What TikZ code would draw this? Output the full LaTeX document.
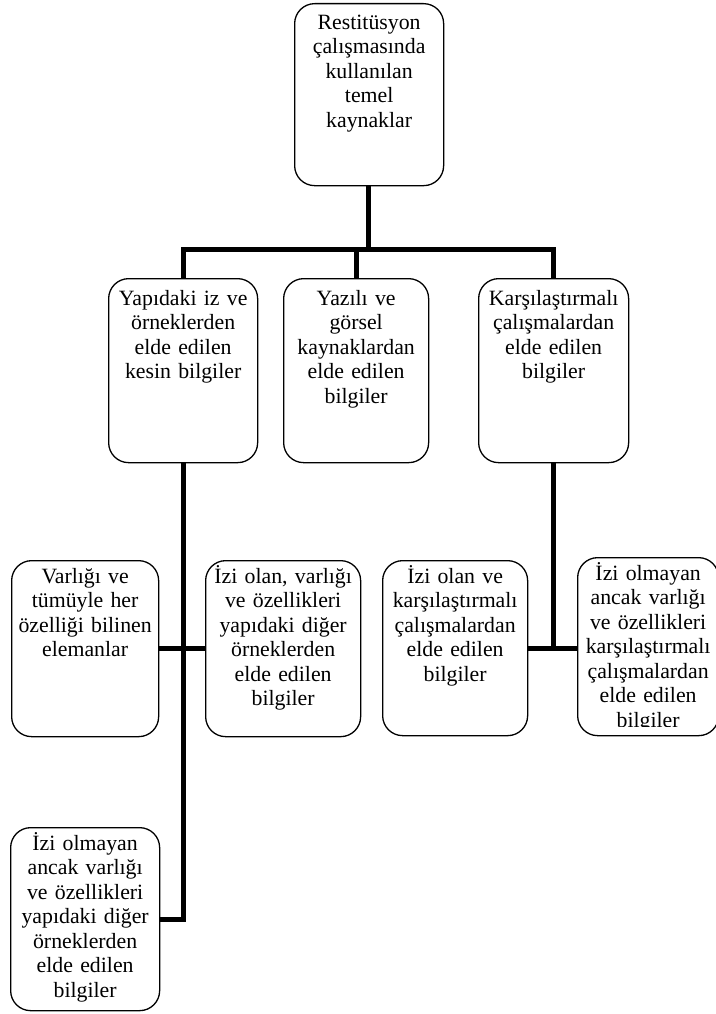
\documentclass[tikz,border=0pt]{standalone}
\usepackage{fontspec}
\setmainfont{Liberation Serif}
\newcommand\tstrut{\rule{0pt}{20pt}}
\begin{document}
\begin{tikzpicture}[x=1pt,y=-1pt,
  box/.style={draw=black, line width=1.3pt, rounded corners=20pt, inner sep=0pt, anchor=north west},
  txt/.style={anchor=north, inner sep=0pt, text width=175pt, align=center, font=\fontsize{21.8}{24.5}\selectfont},
  conn/.style={line width=5pt, line join=miter, line cap=butt}]
\useasboundingbox (0,0) rectangle (715,1014);

% boxes
\node[box, minimum width=149pt, minimum height=182pt] (top) at (294,3) {};
\node[box, minimum width=149pt, minimum height=184pt] (b2) at (108,278) {};
\node[box, minimum width=145pt, minimum height=184pt] (b3) at (283,278) {};
\node[box, minimum width=150pt, minimum height=184pt] (b4) at (478,278) {};
\node[box, minimum width=147pt, minimum height=176pt] (b5) at (11,560) {};
\node[box, minimum width=155pt, minimum height=176pt] (b6) at (205,560) {};
\node[box, minimum width=145pt, minimum height=175pt] (b7) at (382,560) {};
\node[box, minimum width=141pt, minimum height=178pt] (b8) at (577,557) {};
\node[box, minimum width=149pt, minimum height=183pt] (b9) at (10,827) {};

% texts
\node[txt] (top-t) at ([yshift=-6pt]top.north) {\tstrut Restitüsyon\\ çalışmasında\\ kullanılan\\ temel\\ kaynaklar};
\node[txt] (b2-t) at ([yshift=-7pt]b2.north) {\tstrut Yapıdaki iz ve\\ örneklerden\\ elde edilen\\ kesin bilgiler};
\node[txt] (b3-t) at ([yshift=-7pt]b3.north) {\tstrut Yazılı ve\\ görsel\\ kaynaklardan\\ elde edilen\\ bilgiler};
\node[txt] (b4-t) at ([yshift=-7pt]b4.north) {\tstrut Karşılaştırmalı\\ çalışmalardan\\ elde edilen\\ bilgiler};
\node[txt] (b5-t) at ([yshift=-3pt]b5.north) {\tstrut Varlığı ve\\ tümüyle her\\ özelliği bilinen\\ elemanlar};
\node[txt] (b6-t) at ([yshift=-3pt]b6.north) {\tstrut İzi olan, varlığı\\ ve özellikleri\\ yapıdaki diğer\\ örneklerden\\ elde edilen\\ bilgiler};
\node[txt] (b7-t) at ([yshift=-3pt]b7.north) {\tstrut İzi olan ve\\ karşılaştırmalı\\ çalışmalardan\\ elde edilen\\ bilgiler};
\begin{scope}
\clip (b8.north west) rectangle ([yshift=10pt]b8.south east);
\node[txt] (b8-t) at ([yshift=-3pt]b8.north) {\tstrut İzi olmayan\\ ancak varlığı\\ ve özellikleri\\ karşılaştırmalı\\ çalışmalardan\\ elde edilen\\ bilgiler};
\end{scope}
\begin{scope}
\clip (b9.north west) rectangle ([yshift=8pt]b9.south east);
\node[txt] (b9-t) at ([yshift=-3pt]b9.north) {\tstrut İzi olmayan\\ ancak varlığı\\ ve özellikleri\\ yapıdaki diğer\\ örneklerden\\ elde edilen\\ bilgiler};
\end{scope}

% connectors
\coordinate (bar) at (367,249);
\draw[conn] ([xshift=-1pt]top.south) -- ([xshift=-1pt]top.south |- bar);
\draw[conn] (b2.north) -- (b2.north |- bar) -- (b4.north |- bar) -- (b4.north);
\draw[conn] (b3.north) -- (b3.north |- bar);
\draw[conn] (b2.south) -- (b2.south |- b9.east) -- (b9.east);
\draw[conn] (b5.east) -- (b6.west);
\draw[conn] (b4.south) -- (b4.south |- b7.east);
\draw[conn] (b7.east) -- (b7.east -| b8.west);
\end{tikzpicture}
\end{document}
